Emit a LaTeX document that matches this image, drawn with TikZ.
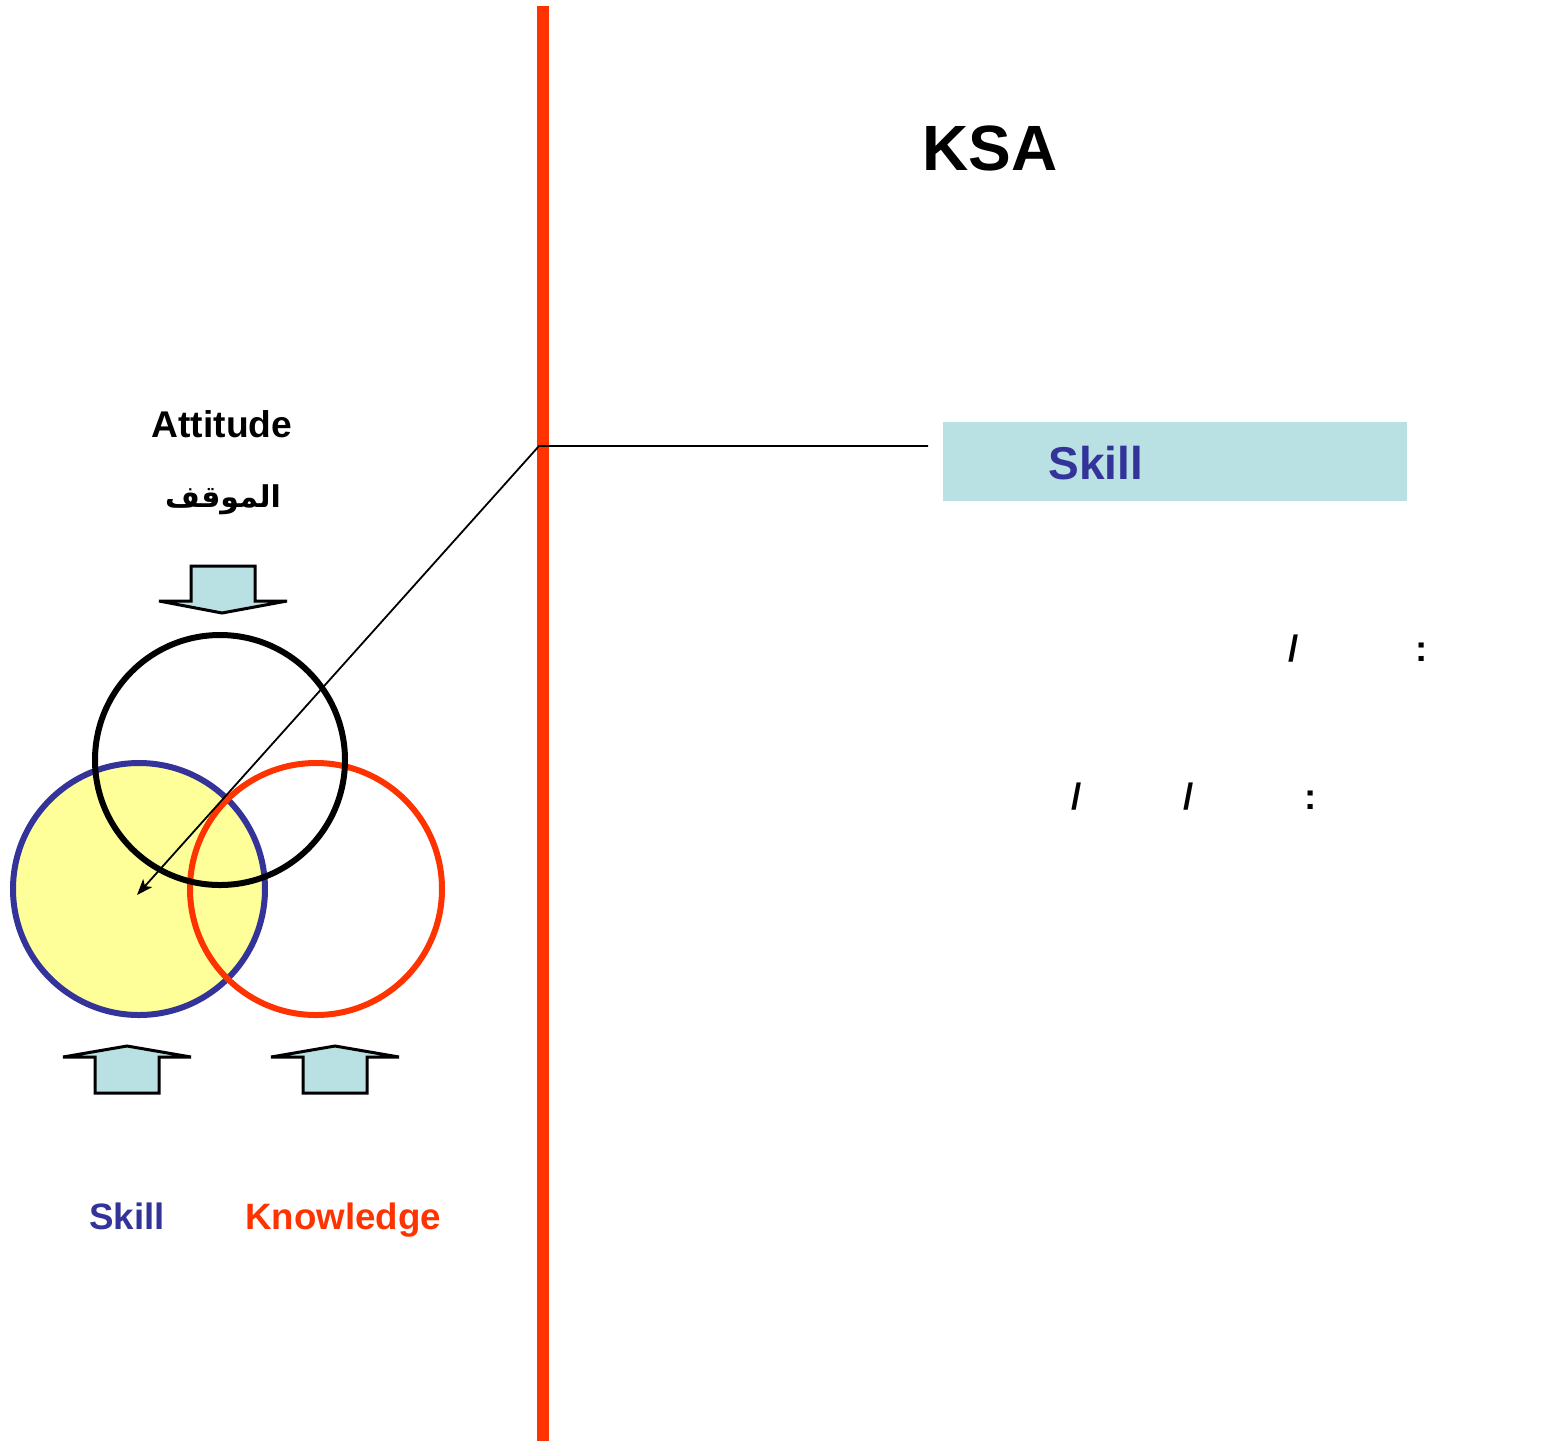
\documentclass[tikz,border=0pt]{standalone}
\usepackage{fontspec}
\usetikzlibrary{arrows.meta}
\setmainfont{Liberation Sans}
\newfontfamily\arabicfont[Script=Arabic]{DejaVu Sans}
\TeXXeTstate=1
\definecolor{skblue}{HTML}{333399}
\definecolor{knred}{HTML}{FF3300}
\definecolor{boxcyan}{HTML}{B9E0E3}
\definecolor{litey}{HTML}{FFFF99}
\begin{document}
\begin{tikzpicture}[x=1pt,y=-1pt,
  lbl/.style={inner sep=0pt,anchor=base,font=\bfseries\fontsize{36.7}{40}\selectfont},
  bigarrow/.style={draw=black,line width=3pt,fill=boxcyan,line join=miter},
  ring/.style={line width=6pt}]
\useasboundingbox (0,0) rectangle (1560,1441);
% vertical red rule
\fill[knred] (537,6) rectangle (549,1441);
% titles
\node[lbl,font=\bfseries\fontsize{64}{70}\selectfont] (ksa) at (990,170) {KSA};
% skill box
\node[fill=boxcyan,minimum width=464pt,minimum height=79pt,inner sep=0pt] (skbox) at (1175,461.5) {};
\node[lbl,text=skblue,font=\bfseries\fontsize{46}{50}\selectfont] (sktitle) at (1096,479) {Skill};
% separators
\node[lbl] (s1) at (1294,661) {/};
\node[lbl] (c1) at (1422,661) {:};
\node[lbl] (s2) at (1077,809) {/};
\node[lbl] (s3) at (1189,809) {/};
\node[lbl] (c2) at (1311,809) {:};
% left labels
\node[lbl,font=\bfseries\fontsize{37.2}{40}\selectfont] (att) at (222,437) {Attitude};
\node[inner sep=0pt,font=\arabicfont\bfseries\fontsize{30}{36}\selectfont] (attar) at (223,500) {\beginR الموقف\endR};
\node[lbl,text=skblue] (sklbl) at (127,1229) {Skill};
\node[lbl,text=knred] (knlbl) at (343,1229) {Knowledge};
% block arrows
\draw[bigarrow] (191,566) -- (255,566) -- (255,601) -- (287,601) -- (222,613) -- (159,601) -- (191,601) -- cycle;
\draw[bigarrow] (95,1093) -- (159,1093) -- (159,1057) -- (191,1057) -- (127,1046) -- (63,1057) -- (95,1057) -- cycle;
\draw[bigarrow] (303,1093) -- (367,1093) -- (367,1057) -- (399,1057) -- (335,1046) -- (271,1057) -- (303,1057) -- cycle;
% circles
\fill[litey] (139,889) circle[radius=126];
\draw[ring,skblue] (139,889) circle[radius=126];
\draw[ring,knred] (316,889) circle[radius=126];
\draw[ring,black] (220,760) circle[radius=125];
% connector
\coordinate (corner) at (539,446);
\coordinate (tip) at (137,895);
\coordinate (lstart) at (928,446);
\draw[line width=1.8pt,-{Stealth[length=16pt,width=12pt,inset=4pt]}] (lstart) -- (corner) -- (tip);
\end{tikzpicture}
\end{document}
